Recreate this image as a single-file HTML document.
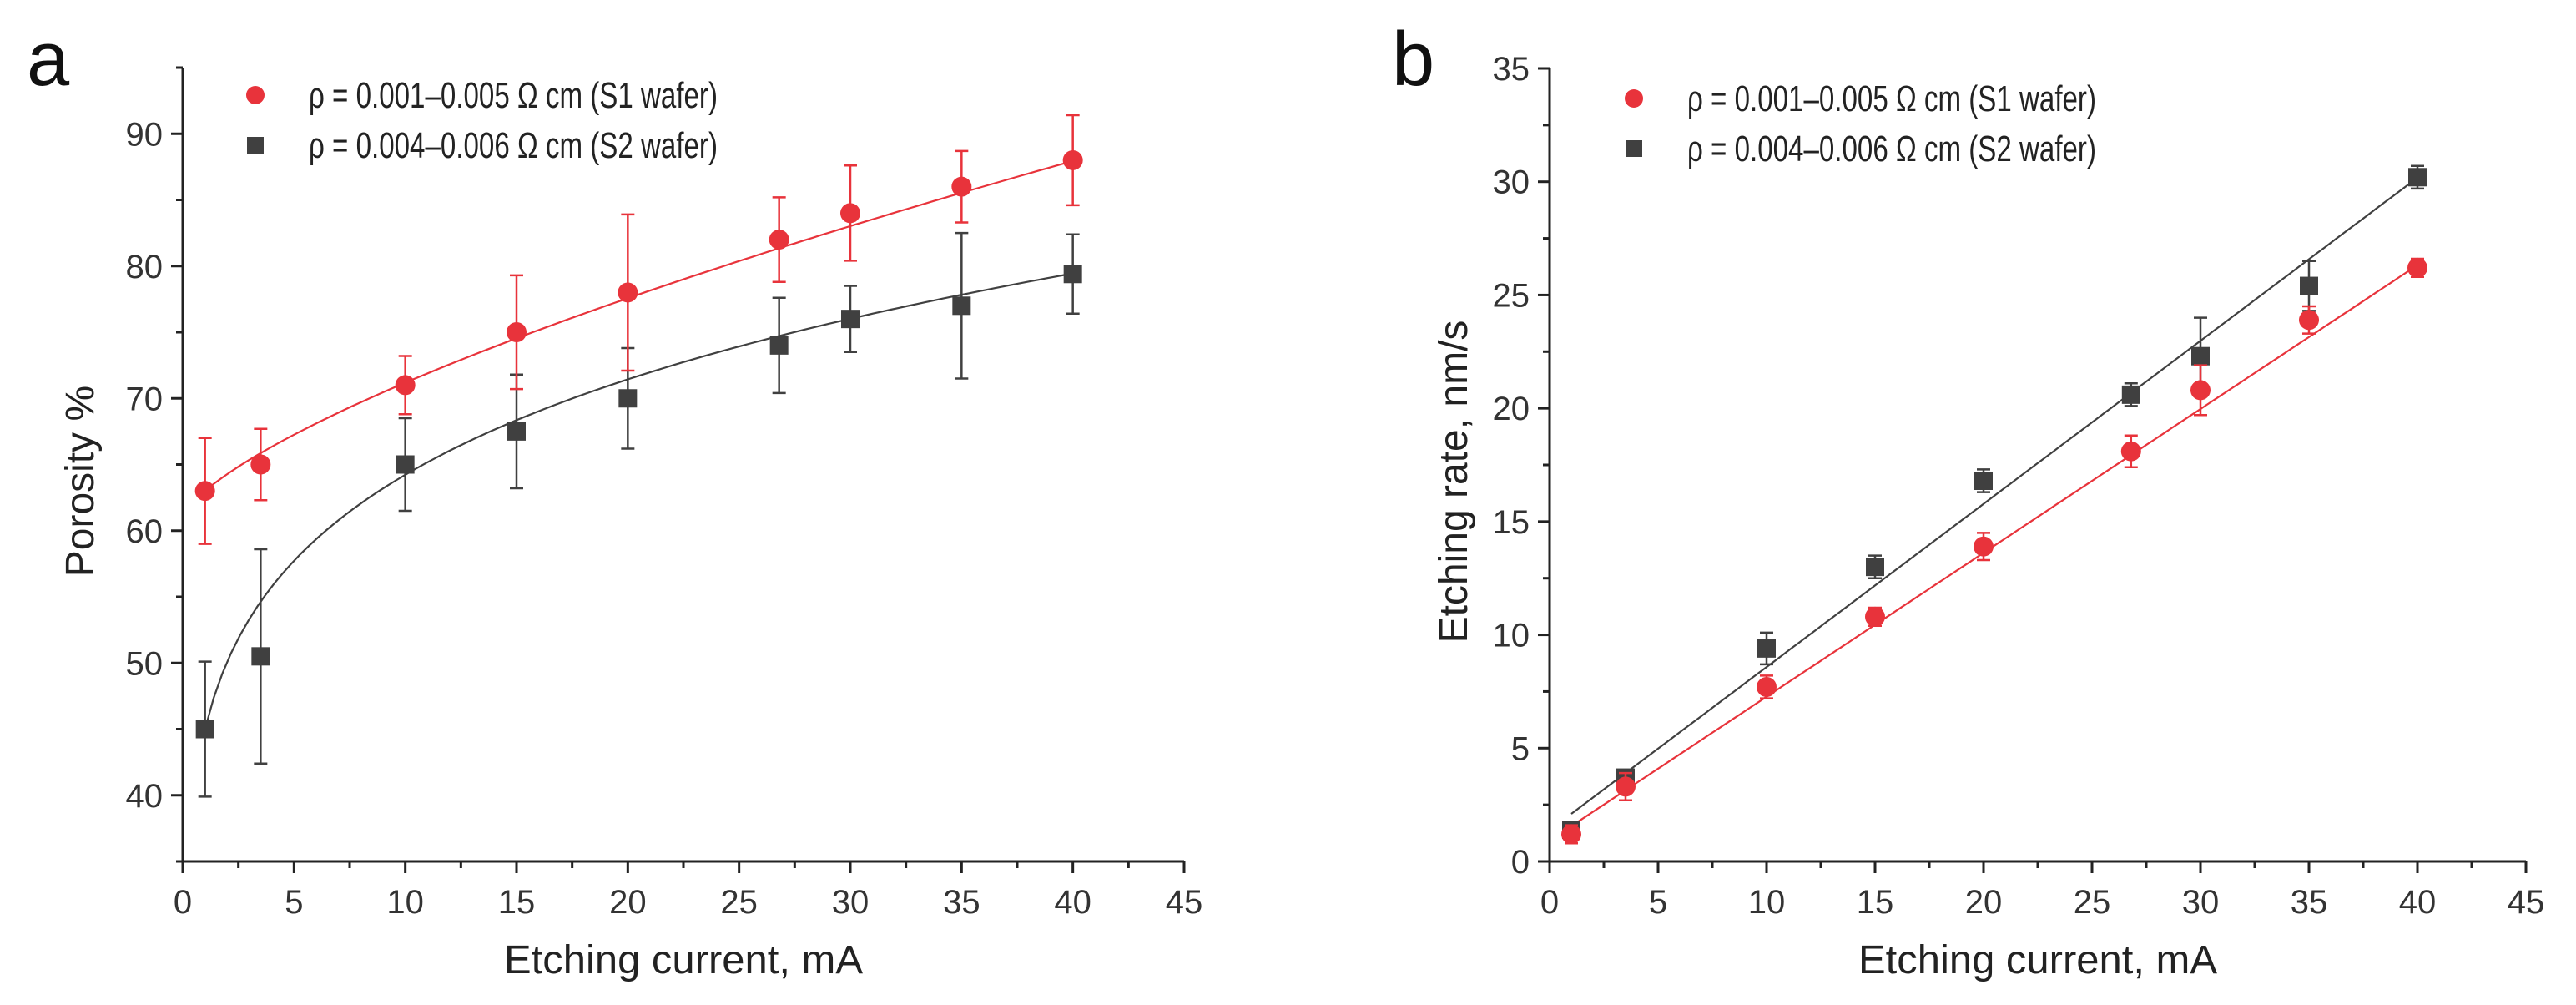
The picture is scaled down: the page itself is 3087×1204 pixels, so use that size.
<!DOCTYPE html>
<html><head><meta charset="utf-8"><style>
html,body{margin:0;padding:0;background:#fff;}
svg{display:block;font-family:"Liberation Sans",Arial,sans-serif;}
</style></head><body>
<svg id="fig" width="3087" height="1204" viewBox="0 0 3087 1204" xmlns="http://www.w3.org/2000/svg"></svg>
<script>
const xs = [1, 3.5, 10, 15, 20, 26.8, 30, 35, 40];
const aS1 = [63, 65, 71, 75, 78, 82, 84, 86, 88];
const aS1err = [4, 2.7, 2.2, 4.3, 5.9, 3.2, 3.6, 2.7, 3.4];
const aS2 = [45, 50.5, 65, 67.5, 70, 74, 76, 77, 79.4];
const aS2err = [5.1, 8.1, 3.5, 4.3, 3.8, 3.6, 2.5, 5.5, 3];
const bS1 = [1.2, 3.3, 7.7, 10.8, 13.9, 18.1, 20.8, 23.9, 26.2];
const bS1err = [0.4, 0.6, 0.5, 0.4, 0.6, 0.7, 1.1, 0.6, 0.4];
const bS2 = [1.4, 3.7, 9.4, 13.0, 16.8, 20.6, 22.3, 25.4, 30.2];
const bS2err = [0.3, 0.3, 0.7, 0.5, 0.5, 0.5, 1.7, 1.1, 0.5];
const xTicks = [0, 5, 10, 15, 20, 25, 30, 35, 40, 45];
const aYTicks = [40, 50, 60, 70, 80, 90];
const bYTicks = [0, 5, 10, 15, 20, 25, 30, 35];
const aFitS1 = [60.96, 2.04, 0.7];   // a + b*x^c
const aFitS2 = [-1.6, 46.6, 0.15];
const bFitS1 = [0.92, 0.635];        // intercept, slope
const bFitS2 = [1.38, 0.72];

const NS = "http://www.w3.org/2000/svg";
const svg = document.getElementById('fig');
const RED = "#e8333b", GRAY = "#404040";
function el(tag, attrs, parent) {
  const e = document.createElementNS(NS, tag);
  for (const k in attrs) e.setAttribute(k, attrs[k]);
  (parent || svg).appendChild(e);
  return e;
}
function txt(s, attrs, parent) { const t = el('text', attrs, parent); t.textContent = s; return t; }

function panel(cfg) {
  const g = el('g', {});
  
  
  const X = v => cfg.x0 + (v - 0) / 45 * (cfg.x1 - cfg.x0);
  const Y = v => cfg.yb - (v - cfg.ymin) / (cfg.ymax - cfg.ymin) * (cfg.yb - cfg.yt);
  const ax = el('path', {d: `M${cfg.x0},${cfg.yt}V${cfg.yb}H${cfg.x1}`, fill: 'none', stroke: '#222', 'stroke-width': 3}, g);
  
  
  for (let v = 0; v <= 45.01; v += 2.5) {
    const major = Math.abs(v % 5) < 0.01;
    el('line', {x1: X(v), x2: X(v), y1: cfg.yb, y2: cfg.yb + (major ? 14 : 8), stroke: '#222', 'stroke-width': 3}, g);
  }
  xTicks.forEach(v => {
    const t = txt(String(v), {x: X(v), y: cfg.yb + 62, 'text-anchor': 'middle', 'font-size': 40, fill: '#333'}, g);
    
    
  });
  const step = cfg.yTicks[1] - cfg.yTicks[0];
  for (let v = cfg.ymin; v <= cfg.ymax + 0.01; v += step / 2) {
    const major = cfg.yTicks.some(t => Math.abs(t - v) < 0.01);
    el('line', {x1: cfg.x0, x2: cfg.x0 - (major ? 14 : 8), y1: Y(v), y2: Y(v), stroke: '#222', 'stroke-width': 3}, g);
  }
  cfg.yTicks.forEach(v => {
    const t = txt(String(v), {x: cfg.x0 - 24, y: Y(v) + 14, 'text-anchor': 'end', 'font-size': 40, fill: '#333'}, g);
    
    
  });
  const xt = txt('Etching current, mA', {x: (cfg.x0 + cfg.x1) / 2, y: 1166, 'text-anchor': 'middle', 'font-size': 48, fill: '#222', textLength: 430, lengthAdjust: 'spacingAndGlyphs'}, g);
  
  
  const yt = txt(cfg.ytitle, {x: 0, y: 0, 'text-anchor': 'middle', 'font-size': 48, fill: '#222', transform: `translate(${cfg.ytx},${(cfg.yt + cfg.yb) / 2 + 20}) rotate(-90)`}, g);
  
  
  const pl = txt(cfg.letter, {x: cfg.lx, y: cfg.ly, 'font-size': 92, fill: '#111'}, g);
  
  
  [[cfg.fit1, RED], [cfg.fit2, GRAY]].forEach(([f, c], i) => {
    let d = '';
    for (let k = 0; k <= 100; k++) { const x = 1 + 39 * k / 100; d += (k ? 'L' : 'M') + X(x).toFixed(1) + ',' + Y(f(x)).toFixed(1); }
    const p = el('path', {d, fill: 'none', stroke: c, 'stroke-width': 2.2}, g);
    
    
  });
  const series = [[cfg.s2, cfg.e2, GRAY, 'sq', 's2'], [cfg.s1, cfg.e1, RED, 'ci', 's1']];
  series.forEach(([ys, es, c, shape, nm]) => {
    xs.forEach((x, i) => {
      const cx = X(x), cy = Y(ys[i]), yu = Y(ys[i] + es[i]), yd = Y(ys[i] - es[i]);
      const eb = el('path', {d: `M${cx},${yu}V${yd}M${cx - 8},${yu}H${cx + 8}M${cx - 8},${yd}H${cx + 8}`, stroke: c, 'stroke-width': 2.5, fill: 'none'}, g);
      
      
      let m;
      if (shape === 'sq') m = el('rect', {x: cx - 11, y: cy - 11, width: 22, height: 22, fill: c}, g);
      else m = el('circle', {cx, cy, r: 12, fill: c}, g);
      
      
    });
  });
  const lg = el('g', {}, g);
  
  
  const c1 = el('circle', {cx: cfg.legx, cy: cfg.legy, r: 11, fill: RED}, lg);
  
  
  const l1 = txt('ρ = 0.001–0.005 Ω cm (S1 wafer)', {x: cfg.legx + 64, y: cfg.legy + 15, 'font-size': 44, fill: '#222', textLength: 490, lengthAdjust: 'spacingAndGlyphs'}, lg);
  
  
  const r2 = el('rect', {x: cfg.legx - 10, y: cfg.legy + 60 - 10, width: 20, height: 20, fill: GRAY}, lg);
  
  
  const l2 = txt('ρ = 0.004–0.006 Ω cm (S2 wafer)', {x: cfg.legx + 64, y: cfg.legy + 75, 'font-size': 44, fill: '#222', textLength: 490, lengthAdjust: 'spacingAndGlyphs'}, lg);
  
  
}

panel({name: 'panel-a-porosity-chart', x0: 219, x1: 1419, yt: 81, yb: 1032, ymin: 35, ymax: 95, yTicks: aYTicks,
  ytitle: 'Porosity %', ytx: 112, letter: 'a', lx: 32, ly: 102,
  s1: aS1, e1: aS1err, s2: aS2, e2: aS2err,
  fit1: x => aFitS1[0] + aFitS1[1] * Math.pow(x, aFitS1[2]),
  fit2: x => aFitS2[0] + aFitS2[1] * Math.pow(x, aFitS2[2]),
  legx: 306, legy: 114});
panel({name: 'panel-b-etching-rate-chart', x0: 1857, x1: 3027, yt: 82, yb: 1032, ymin: 0, ymax: 35, yTicks: bYTicks,
  ytitle: 'Etching rate, nm/s', ytx: 1758, letter: 'b', lx: 1668, ly: 102,
  s1: bS1, e1: bS1err, s2: bS2, e2: bS2err,
  fit1: x => bFitS1[0] + bFitS1[1] * x,
  fit2: x => bFitS2[0] + bFitS2[1] * x,
  legx: 1958, legy: 118});
</script>
</body></html>
